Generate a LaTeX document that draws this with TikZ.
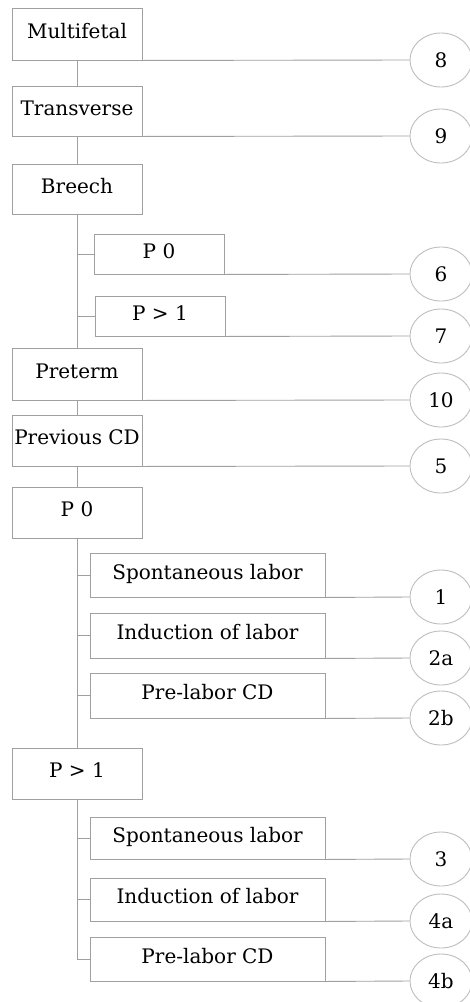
\documentclass[tikz,border=0pt]{standalone}
\usepackage{fontspec}
\setmainfont{DejaVu Serif}
\usetikzlibrary{calc,shapes.geometric}
\definecolor{boxgray}{RGB}{160,160,160}
\definecolor{circgray}{RGB}{190,190,190}
\tikzset{
  txt/.style={font=\fontsize{20}{24}\selectfont, text height=14.6pt, text depth=6pt},
  mbox/.style={draw=boxgray, line width=0.9pt, minimum width=130pt, inner sep=0pt, txt},
  sbox/.style={draw=boxgray, line width=0.9pt, inner sep=0pt, txt},
  numc/.style={draw=circgray, line width=0.9pt, ellipse, minimum width=62pt, minimum height=54pt, inner sep=0pt, font=\fontsize{20}{24}\selectfont},
  conn/.style={draw=boxgray, line width=0.9pt}
}
\begin{document}
\begin{tikzpicture}[x=1pt,y=-1pt]
\useasboundingbox (0,0) rectangle (470,1002);
\fill[white] (0,0) rectangle (470,1002);
% main boxes
\node[mbox, minimum height=52pt] (mf) at (77,34) {Multifetal};
\node[mbox, minimum height=50pt] (tv) at (77,111) {Transverse};
\node[mbox, minimum height=50pt] (br) at (77,189) {Breech};
\node[mbox, minimum height=52pt] (pt) at (77,374) {Preterm};
\node[mbox, minimum height=51pt] (pc) at (77,440.5) {Previous CD};
\node[mbox, minimum height=51pt] (pz) at (77,512.5) {P 0};
\node[mbox, minimum height=51pt] (pg) at (77,773.5) {P > 1};
% sub boxes
\node[sbox, minimum width=130pt, minimum height=40pt] (b0) at (159,254) {P 0};
\node[sbox, minimum width=130pt, minimum height=40pt] (b1) at (160,316) {P > 1};
\node[sbox, minimum width=235pt, minimum height=44pt] (s1) at (207.5,575) {Spontaneous labor};
\node[sbox, minimum width=235pt, minimum height=45pt] (i1) at (207.5,635.5) {Induction of labor};
\node[sbox, minimum width=235pt, minimum height=45pt] (l1) at (207.5,695.5) {Pre-labor CD};
\node[sbox, minimum width=235pt, minimum height=42pt] (s2) at (207.5,838) {Spontaneous labor};
\node[sbox, minimum width=235pt, minimum height=43pt] (i2) at (207.5,899.5) {Induction of labor};
\node[sbox, minimum width=235pt, minimum height=44pt] (l2) at (207.5,959) {Pre-labor CD};
% circles
\node[numc] (c8) at (441,60) {8};
\node[numc] (c9) at (441,136) {9};
\node[numc] (c6) at (441,274) {6};
\node[numc] (c7) at (441,336) {7};
\node[numc] (c10) at (441,400) {10};
\node[numc] (c5) at (441,466) {5};
\node[numc] (c1) at (441,597) {1};
\node[numc] (c2a) at (441,658) {2a};
\node[numc] (c2b) at (441,718) {2b};
\node[numc] (c3) at (441,859) {3};
\node[numc] (c4a) at (441,921) {4a};
\node[numc] (c4b) at (441,981) {4b};
% vertical chain
\draw[conn] (mf.south) -- (tv.north);
\draw[conn] (tv.south) -- (br.north);
\draw[conn] (br.south) -- (pt.north);
\draw[conn] (pt.south) -- (pc.north);
\draw[conn] (pc.south) -- (pz.north);
\draw[conn] (pz.south) -- (pg.north);
\draw[conn] (pg.south) |- (l2.west);
% branches
\draw[conn] (b0.west) -- (b0.west -| br.south);
\draw[conn] (b1.west) -- (b1.west -| br.south);
\draw[conn] (s1.west) -- (s1.west -| pz.south);
\draw[conn] (i1.west) -- (i1.west -| pz.south);
\draw[conn] (l1.west) -- (l1.west -| pz.south);
\draw[conn] (s2.west) -- (s2.west -| pg.south);
\draw[conn] (i2.west) -- (i2.west -| pg.south);
% to circles
\draw[conn] (mf.south east) -- (c8.west);
\draw[conn] (tv.south east) -- (c9.west);
\draw[conn] (b0.south east) -- (c6.west);
\draw[conn] (b1.south east) -- (c7.west);
\draw[conn] (pt.south east) -- (c10.west);
\draw[conn] (pc.south east) -- (c5.west);
\draw[conn] (s1.south east) -- (c1.west);
\draw[conn] (i1.south east) -- (c2a.west);
\draw[conn] (l1.south east) -- (c2b.west);
\draw[conn] (s2.south east) -- (c3.west);
\draw[conn] (i2.south east) -- (c4a.west);
\draw[conn] (l2.south east) -- (c4b.west);
\end{tikzpicture}
\end{document}
